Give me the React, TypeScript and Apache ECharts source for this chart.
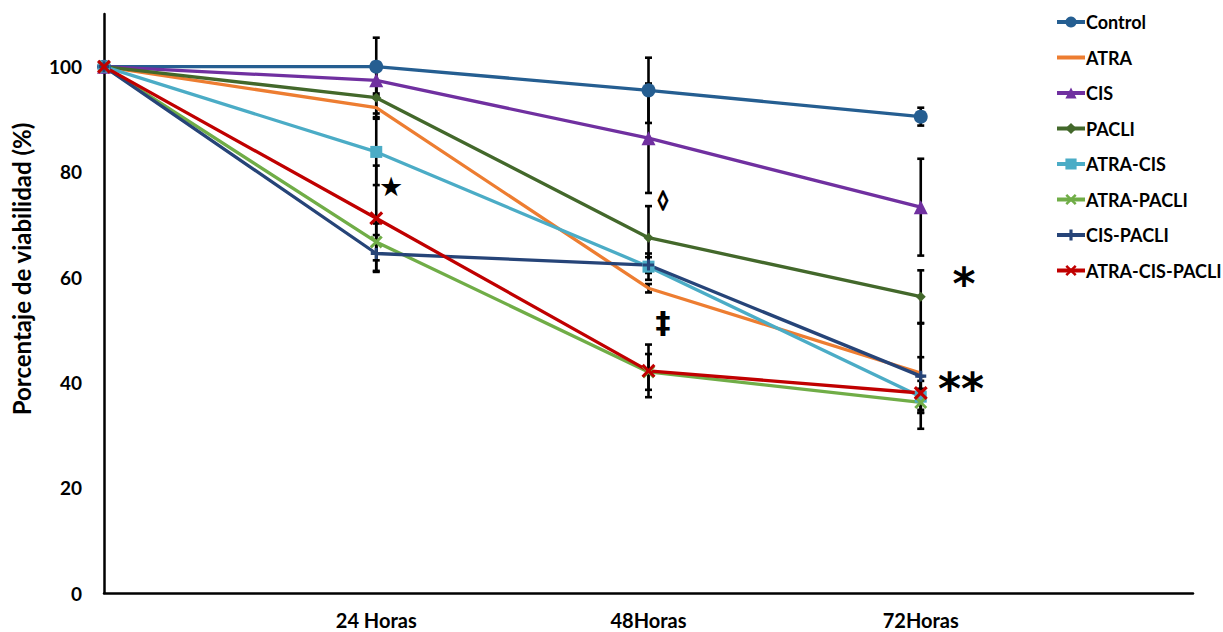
import React, { useEffect, useRef } from "react";
import * as echarts from "echarts";

const timeLabels = ["0", "24 Horas", "48Horas", "72Horas", ""];
const yTicks = [0, 20, 40, 60, 80, 100];

const seriesNames = [
  "Control",
  "ATRA",
  "CIS",
  "PACLI",
  "ATRA-CIS",
  "ATRA-PACLI",
  "CIS-PACLI",
  "ATRA-CIS-PACLI",
];

const control = [100, 100, 95.5, 90.5];
const atra = [100, 92.2, 57.9, 41.8];
const cis = [100, 97.4, 86.4, 73.3];
const pacli = [100, 94.1, 67.5, 56.3];
const atraCis = [100, 83.8, 62.0, 37.3];
const atraPacli = [100, 66.7, 42.0, 36.2];
const cisPacli = [100, 64.5, 62.3, 41.2];
const atraCisPacli = [100, 71.2, 42.2, 38.0];

const controlErr = [0, 5.5, 6.2, 1.7];
const atraErr = [0, 1.8, 0.8, 3];
const cisErr = [0, 2.5, 10.4, 9.2];
const pacliErr = [0, 3, 6, 5];
const atraCisErr = [0, 6.3, 2.5, 3];
const atraPacliErr = [0, 3.5, 3.4, 2];
const cisPacliErr = [0, 3.5, 1.5, 10];
const atraCisPacliErr = [0, 10, 5, 3.2];

const annotations = [
  { text: "★", x: 391, y: 186, size: 27, stroke: 0 },
  { text: "◊", x: 663, y: 199, size: 19, stroke: 1.6 },
  { text: "‡", x: 663, y: 322, size: 30, stroke: 0 },
  { text: "*", x: 964, y: 283, size: 44, stroke: 0 },
  { text: "**", x: 961, y: 388, size: 44, stroke: 0 },
];

const values = [control, atra, cis, pacli, atraCis, atraPacli, cisPacli, atraCisPacli];
const errors = [controlErr, atraErr, cisErr, pacliErr, atraCisErr, atraPacliErr, cisPacliErr, atraCisPacliErr];

const colors = ["#255E91", "#ED7D31", "#7030A0", "#43682B", "#4BACC6", "#70AD47", "#264478", "#C00000"];
const X_PATH = "path://M0,1.6L1.6,0L5,3.4L8.4,0L10,1.6L6.6,5L10,8.4L8.4,10L5,6.6L1.6,10L0,8.4L3.4,5Z";
const PLUS_PATH = "path://M3.6,0H6.4V3.6H10V6.4H6.4V10H3.6V6.4H0V3.6H3.6Z";
const symbols = ["circle", "none", "triangle", "diamond", "rect", X_PATH, PLUS_PATH, X_PATH];
const symbolSizes = [14, 0, 14, 10, 12, 13, 11, 14];

const FONT = "Lato";

export default function App() {
  const ref = useRef<HTMLDivElement>(null);
  useEffect(() => {
    if (!ref.current) return;
    const chart = echarts.init(ref.current, null, { renderer: "svg" });

    const errData: any[] = [];
    values.forEach((vals, si) => {
      vals.forEach((v, i) => {
        const e = errors[si][i];
        if (e > 0) errData.push([i, v, e]);
      });
    });

    const lineSeries = seriesNames.map((name, i) => ({
      name,
      type: "line",
      data: values[i],
      symbol: symbols[i],
      symbolSize: symbolSizes[i],
      showSymbol: symbols[i] !== "none",
      lineStyle: { color: colors[i], width: 3.3 },
      itemStyle: { color: colors[i] },
      z: 3,
    }));

    const legendData = seriesNames.map((name) =>
      name === "ATRA" ? { name, itemStyle: { opacity: 0 } } : { name }
    );

    const option: any = {
      animation: false,
      backgroundColor: "#ffffff",
      grid: { left: 104, right: 30, top: 14, bottom: 39, containLabel: false },
      legend: {
        data: legendData,
        orient: "vertical",
        left: 1055,
        top: 13,
        padding: 0,
        itemWidth: 28,
        itemHeight: 14,
        itemGap: 17.5,
        lineStyle: { width: 4 },
        textStyle: { fontFamily: FONT, fontWeight: "bold", fontSize: 18, color: "#000", lineHeight: 14, padding: [0, 0, 0, -4] },
      },
      xAxis: {
        type: "category",
        data: timeLabels,
        boundaryGap: false,
        axisLine: { lineStyle: { color: "#000", width: 2.5 } },
        axisTick: { show: false },
        splitLine: { show: false },
        axisLabel: {
          fontFamily: FONT,
          fontWeight: "bold",
          fontSize: 20,
          color: "#000",
          margin: 17,
          formatter: (v: string) => (v === "0" ? "" : v),
        },
      },
      yAxis: {
        type: "value",
        min: 0,
        max: 110,
        interval: 20,
        axisLine: { show: true, lineStyle: { color: "#000", width: 2.5 } },
        axisTick: { show: false },
        splitLine: { show: false },
        axisLabel: {
          fontFamily: FONT,
          fontWeight: "bold",
          fontSize: 19,
          color: "#000",
          margin: 22,
          formatter: (v: number) => (yTicks.indexOf(v) >= 0 ? String(v) : ""),
        },
      },
      series: [
        {
          name: "err",
          type: "custom",
          data: errData,
          z: 1,
          silent: true,
          renderItem: (params: any, api: any) => {
            const x = api.value(0);
            const v = api.value(1);
            const e = api.value(2);
            const top = api.coord([x, v + e]);
            const bot = api.coord([x, v - e]);
            const cap = 3.5;
            const st = { stroke: "#000", lineWidth: 2.6 };
            return {
              type: "group",
              children: [
                { type: "line", shape: { x1: top[0], y1: top[1], x2: bot[0], y2: bot[1] }, style: st },
                { type: "line", shape: { x1: top[0] - cap, y1: top[1], x2: top[0] + cap, y2: top[1] }, style: st },
                { type: "line", shape: { x1: bot[0] - cap, y1: bot[1], x2: bot[0] + cap, y2: bot[1] }, style: st },
              ],
            };
          },
        },
        ...lineSeries,
      ],
      graphic: [
        {
          type: "text",
          x: 21,
          y: 269,
          rotation: Math.PI / 2,
          style: {
            text: "Porcentaje de viabilidad (%)",
            fontFamily: FONT,
            fontWeight: "bold",
            fontSize: 24,
            fill: "#000",
            align: "center",
            verticalAlign: "middle",
          },
        },
        ...annotations.map((a) => ({
          type: "text",
          x: a.x,
          y: a.y,
          style: {
            text: a.text,
            fontFamily: "DejaVu Sans",
            fontWeight: "bold",
            fontSize: a.size,
            fill: "#000",
            stroke: a.stroke ? "#000" : undefined,
            lineWidth: a.stroke,
            align: "center",
            verticalAlign: "middle",
          },
        })),
      ],
    };
    chart.setOption(option);
    return () => chart.dispose();
  }, []);
  return (
    <div
      ref={ref}
      style={{ position: "fixed", left: 0, top: 0, width: 1223, height: 632, background: "#fff" }}
    />
  );
}
